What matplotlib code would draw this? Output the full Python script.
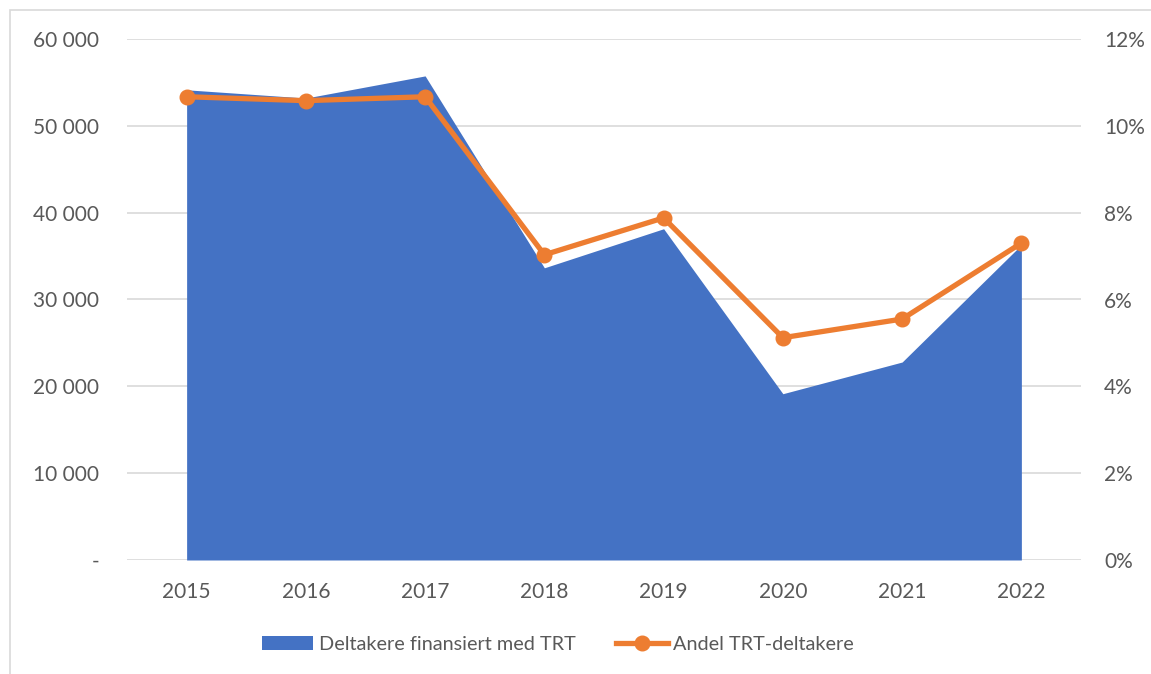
import matplotlib
matplotlib.use("Agg")
import matplotlib.pyplot as plt
from matplotlib.patches import Rectangle
from matplotlib.lines import Line2D
from matplotlib.patches import Patch
import numpy as np

years = ["2015", "2016", "2017", "2018", "2019", "2020", "2021", "2022"]
deltakere = [54150, 53200, 55750, 33650, 38150, 19150, 22800, 36300]
andel = [0.1067, 0.1058, 0.1067, 0.0703, 0.0788, 0.0512, 0.0555, 0.0730]
left_ticks = [0, 10000, 20000, 30000, 40000, 50000, 60000]
left_labels = ["-", "10 000", "20 000", "30 000", "40 000", "50 000", "60 000"]
right_ticks = [0, 0.02, 0.04, 0.06, 0.08, 0.10, 0.12]
right_labels = ["0%", "2%", "4%", "6%", "8%", "10%", "12%"]

plt.rcParams['font.family'] = ['Lato', 'DejaVu Sans']
W, H = 1151, 674
fig = plt.figure(figsize=(W / 100, H / 100), dpi=100)
txt = "#595959"
fs = 15

ax = fig.add_axes([127 / W, (H - 560) / H, (1081 - 127) / W, (560 - 39) / H])
x = np.arange(len(years))
ax.fill_between(x, 0, deltakere, color="#4472C4", lw=0, zorder=2)
ax.set_xlim(-0.5, len(years) - 0.5)
ax.set_ylim(0, 60000)
ax.set_yticks(left_ticks)
ax.set_yticklabels(left_labels)
ax.set_xticks(x)
ax.set_xticklabels(years)
ax.grid(axis="y", color="#D9D9D9", lw=1.2, zorder=0)
ax.set_axisbelow(True)
for s in ax.spines.values():
    s.set_visible(False)
ax.tick_params(axis="both", length=0, labelsize=fs, labelcolor=txt)
ax.tick_params(axis="y", pad=20)
ax.tick_params(axis="x", pad=16)

ax2 = ax.twinx()
ax2.plot(x, andel, color="#ED7D31", lw=3.8, marker="o", markersize=10.5,
         solid_capstyle="round", zorder=3)
ax2.set_ylim(0, 0.12)
ax2.set_yticks(right_ticks)
ax2.set_yticklabels(right_labels)
for s in ax2.spines.values():
    s.set_visible(False)
ax2.tick_params(axis="y", length=0, labelsize=fs, labelcolor=txt, pad=16.5)

handles = [Patch(facecolor="#4472C4", edgecolor="none"),
           Line2D([0], [0], color="#ED7D31", lw=3.8, marker="o", markersize=10.5)]
fig.legend(handles, ["Deltakere finansiert med TRT", "Andel TRT-deltakere"],
           loc="center", bbox_to_anchor=(558 / W, (H - 644) / H), ncol=2,
           frameon=False, fontsize=14.3, labelcolor=txt, handlelength=2.6,
           handletextpad=0.3, columnspacing=2.0, handleheight=0.7)

fig.patches.append(Rectangle((10, -10), W, H, transform=None,
                             fill=False, edgecolor="#D9D9D9", lw=1.2))

fig.savefig("out.png", dpi=100)
